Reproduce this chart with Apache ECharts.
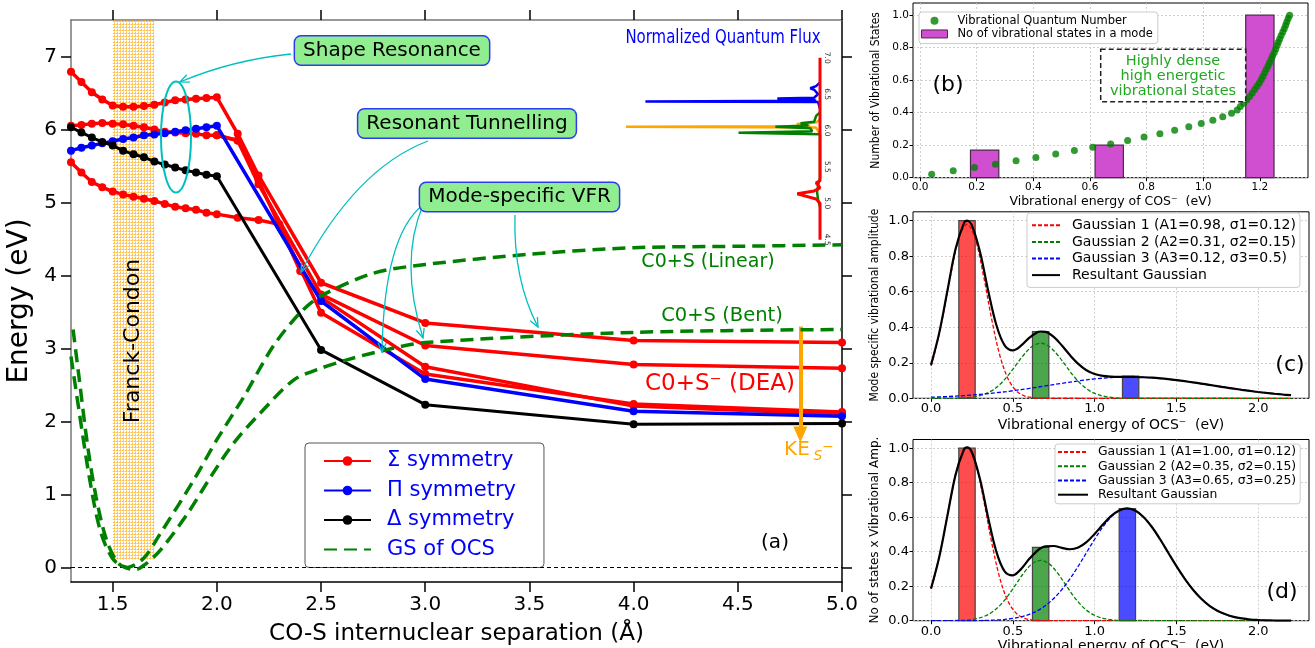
<!DOCTYPE html>
<html><head><meta charset="utf-8">
<script src="https://cdn.jsdelivr.net/npm/echarts@6/dist/echarts.min.js"></script>
<style>html,body{margin:0;padding:0;background:#fff}#c{width:1315px;height:648px}</style>
</head><body><div id="c"></div>
<script>
// ---------------- DATA ----------------
// Panel (a): potential energy curves
const mainTicksX = [1.5, 2.0, 2.5, 3.0, 3.5, 4.0, 4.5, 5.0];
const mainTicksY = [0, 1, 2, 3, 4, 5, 6, 7];
const sig1X = [1.30,1.35,1.40,1.45,1.50,1.55,1.60,1.65,1.70,1.75,1.80,1.85,1.90,1.95,2.00,2.10,2.20,2.50,3.00,4.00,5.00];
const sig1Y = [6.79,6.65,6.51,6.41,6.33,6.31,6.31,6.32,6.34,6.37,6.40,6.41,6.42,6.43,6.44,5.94,5.37,3.90,3.35,3.11,3.08];
const sig2X = [1.30,1.35,1.40,1.45,1.50,1.55,1.60,1.65,1.70,1.75,1.80,1.85,1.90,1.95,2.00,2.10,2.20,2.50,3.00,4.00,5.00];
const sig2Y = [6.05,6.06,6.08,6.09,6.08,6.07,6.05,6.03,6.00,5.97,5.96,5.95,5.94,5.92,5.92,5.85,5.25,3.74,3.04,2.78,2.73];
const sig3X = [1.30,1.35,1.40,1.45,1.50,1.55,1.60,1.65,1.70,1.75,1.80,1.85,1.90,1.95,2.00,2.10,2.20,2.30,2.50,3.00,4.00,5.00];
const sig3Y = [5.55,5.41,5.28,5.21,5.15,5.11,5.08,5.05,5.02,4.98,4.94,4.92,4.90,4.86,4.84,4.79,4.76,4.70,3.49,2.65,2.24,2.13];
const sig4X = [2.00,2.10,2.20,2.40,2.50,3.00,4.00,5.00];
const sig4Y = [5.92,5.85,5.30,4.06,3.70,2.75,2.21,2.10];
const piX = [1.30,1.35,1.40,1.45,1.50,1.55,1.60,1.65,1.70,1.75,1.80,1.85,1.90,1.95,2.00,2.50,3.00,4.00,5.00];
const piY = [5.71,5.75,5.78,5.81,5.84,5.87,5.89,5.92,5.93,5.95,5.97,5.99,6.01,6.03,6.05,3.65,2.58,2.14,2.07];
const deltaX = [1.30,1.35,1.40,1.45,1.50,1.55,1.60,1.65,1.70,1.75,1.80,1.85,1.90,1.95,2.00,2.50,3.00,4.00,5.00];
const deltaY = [6.03,5.96,5.89,5.83,5.78,5.71,5.66,5.62,5.56,5.52,5.48,5.44,5.41,5.38,5.36,2.98,2.23,1.96,1.97];
const gsLinX = [1.30,1.34,1.39,1.44,1.50,1.57,1.65,1.73,1.89,2.00,2.13,2.27,2.40,2.50,2.75,3.00,3.50,4.00,4.50,5.00];
const gsLinY = [2.89,2.12,1.20,0.51,0.12,0.00,0.13,0.47,1.20,1.75,2.34,3.03,3.49,3.72,4.03,4.15,4.29,4.38,4.40,4.42];
const gsBentX = [1.31,1.34,1.38,1.42,1.47,1.53,1.61,1.66,1.73,1.86,1.97,2.08,2.21,2.37,2.50,2.62,2.78,3.00,4.00,5.00];
const gsBentY = [3.26,2.57,1.66,0.97,0.38,0.05,-0.03,0.05,0.24,0.74,1.24,1.70,2.12,2.57,2.73,2.84,2.96,3.08,3.22,3.26];
const fcRange = [1.5, 1.7];
const keArrow = [4.8, 3.30, 1.82];
// Normalized quantum flux inset (energy, flux)
const fluxTicks = [4.5, 5.0, 5.5, 6.0, 6.5, 7.0];
const fluxBlueE = [6.30,6.39,6.40,6.41,6.43,6.44,6.45,6.50,6.56,6.58,6.61,6.66];
const fluxBlueF = [0,0.01,0.90,0.02,0.05,0.22,0.03,0.01,0.03,0.05,0.02,0];
const fluxOrangeE = [5.95,6.04,6.05,6.06,6.09,6.11,6.15];
const fluxOrangeF = [0,0.02,1.00,0.05,0.12,0.02,0];
const fluxGreenE = [4.95,5.05,5.15,5.25,5.35,5.95,5.97,5.99,6.03,6.05,6.07,6.10,6.12,6.20,6.25];
const fluxGreenF = [0,0.01,0.015,0.01,0,0,0.42,0.04,0.05,0.23,0.06,0.10,0.03,0.02,0];
const fluxRedE = [4.50,5.00,5.06,5.13,5.17,5.21,5.25,5.28,5.31,7.00];
const fluxRedF = [0,0,0.02,0.117,0.03,0,0.01,0.02,0,0];
// Panel (b)
const vibE = [0.041,0.117,0.192,0.266,0.339,0.409,0.479,0.545,0.610,0.673,0.733,0.791,0.847,0.899,0.949,0.993,1.034,1.069,1.100,1.120,1.131,1.143,1.154,1.164,1.173,1.182,1.190,1.198,1.205,1.211,1.217,1.223,1.229,1.234,1.240,1.245,1.251,1.256,1.261,1.265,1.270,1.275,1.281,1.286,1.291,1.295,1.300,1.305];
const vibN = [0.021,0.042,0.063,0.083,0.104,0.125,0.146,0.167,0.188,0.208,0.229,0.250,0.271,0.292,0.313,0.333,0.354,0.375,0.396,0.417,0.438,0.458,0.479,0.500,0.521,0.542,0.563,0.583,0.604,0.625,0.646,0.667,0.688,0.708,0.729,0.750,0.771,0.792,0.813,0.833,0.854,0.875,0.896,0.917,0.938,0.958,0.979,1.000];
const modeE = [0.228, 0.668, 1.200];
const modeCount = [0.17, 0.20, 1.00];
const bTicksX = [0, 0.2, 0.4, 0.6, 0.8, 1.0, 1.2];
const pTicksY = [0, 0.2, 0.4, 0.6, 0.8, 1.0];
const cdTicksX = [0, 0.5, 1.0, 1.5, 2.0];
// Panel (c)
const cBarE = [0.22, 0.67, 1.22];
const cBarA = [1.00, 0.375, 0.125];
const cG1X = [0,0.02,0.07,0.12,0.17,0.22,0.27,0.32,0.37,0.42,0.47,0.52,0.57,0.62,0.67,0.72,2.2];
const cG1Y = [0.182,0.244,0.449,0.693,0.899,0.980,0.899,0.693,0.449,0.244,0.112,0.043,0.0139,0.0038,0.0009,0.0002,0];
const cG2X = [0,0.17,0.22,0.27,0.32,0.37,0.42,0.47,0.52,0.57,0.62,0.67,0.72,0.77,0.82,0.87,0.92,0.97,1.02,1.07,1.12,1.17,2.2];
const cG2Y = [0,0.0012,0.0034,0.0089,0.0204,0.0419,0.0772,0.1274,0.188,0.248,0.293,0.310,0.293,0.248,0.188,0.1274,0.0772,0.0419,0.0204,0.0089,0.0034,0.0012,0];
const cG3X = [0,0.1,0.2,0.3,0.4,0.5,0.6,0.7,0.8,0.9,1.0,1.1,1.2,1.3,1.4,1.5,1.6,1.7,1.8,1.9,2.0,2.1,2.2];
const cG3Y = [0.0061,0.0098,0.0150,0.0221,0.0313,0.0426,0.0556,0.0699,0.0843,0.0978,0.1089,0.1166,0.1199,0.1185,0.1125,0.1026,0.0899,0.0757,0.0612,0.0476,0.0355,0.0255,0.0176];
const sumX = [0,0.05,0.1,0.15,0.2,0.22,0.25,0.3,0.35,0.4,0.45,0.5,0.55,0.6,0.65,0.67,0.7,0.75,0.8,0.85,0.9,0.95,1.0,1.05,1.1,1.15,1.2,1.25,1.3,1.35,1.4,1.45,1.5,1.55,1.6,1.65,1.7,1.75,1.8,1.85,1.9,1.95,2.0,2.05,2.1,2.15,2.2];
const cSumY = [0.188,0.367,0.604,0.840,0.983,1.000,0.974,0.822,0.603,0.411,0.298,0.270,0.296,0.340,0.372,0.376,0.374,0.346,0.297,0.242,0.194,0.158,0.137,0.126,0.122,0.121,0.121,0.120,0.1185,0.116,0.1125,0.108,0.1026,0.0965,0.0899,0.0829,0.0757,0.0684,0.0612,0.0543,0.0476,0.0413,0.0355,0.0303,0.0255,0.0213,0.0176];
// Panel (d)
const dBarE = [0.22, 0.67, 1.20];
const dBarA = [1.00, 0.425, 0.65];
const dG1Y = [0.186,0.249,0.458,0.707,0.917,1.000,0.917,0.707,0.458,0.249,0.114,0.044,0.0142,0.0039,0.0009,0.0002,0];
const dG2Y = [0,0.0014,0.0039,0.0100,0.0230,0.0473,0.0872,0.1439,0.2123,0.2804,0.3311,0.350,0.3311,0.2804,0.2123,0.1439,0.0872,0.0473,0.0230,0.0100,0.0039,0.0014,0];
const dG3X = [0,0.2,0.25,0.3,0.35,0.4,0.45,0.5,0.55,0.6,0.65,0.7,0.75,0.8,0.85,0.9,0.95,1.0,1.05,1.1,1.15,1.2,1.25,1.3,1.35,1.4,1.45,1.5,1.55,1.6,1.65,1.7,1.75,1.8,1.85,1.9,1.95,2.0,2.05,2.1,2.15,2.2];
const dG3Y = [0,0.0002,0.0005,0.0010,0.0020,0.0039,0.0072,0.0129,0.0221,0.0365,0.0578,0.088,0.129,0.181,0.244,0.316,0.394,0.472,0.543,0.600,0.637,0.650,0.637,0.600,0.543,0.472,0.394,0.316,0.244,0.181,0.129,0.088,0.0578,0.0365,0.0221,0.0129,0.0072,0.0039,0.0020,0.0010,0.0005,0.0002];
const dSumY = [0.186,0.367,0.607,0.845,0.989,1.004,0.976,0.818,0.594,0.398,0.286,0.263,0.299,0.357,0.406,0.420,0.431,0.433,0.422,0.414,0.424,0.455,0.503,0.557,0.606,0.639,0.651,0.637,0.600,0.543,0.472,0.394,0.316,0.244,0.181,0.129,0.088,0.058,0.037,0.022,0.013,0.007,0.004,0.002,0.001,0.0005,0.0002];

// ---------------- HELPERS ----------------
const zip = (a, b) => a.map((v, i) => [v, b[i]]);
const FONT = 'DejaVu Sans';
const NARROW = "'DejaVu Sans Condensed','Liberation Sans Narrow','DejaVu Sans'";
const RED = '#ff0000', BLUE = '#0000ff', GREEN = '#008000', CYAN = '#00bfbf';

const pc = document.createElement('canvas'); pc.width = 3; pc.height = 3;
const pg = pc.getContext('2d');
pg.fillStyle = 'rgba(255,165,0,0.7)';
pg.fillRect(0, 0, 1, 1); pg.fillRect(0, 2, 1, 1); pg.fillRect(2, 0, 1, 1);
pg.fillStyle = 'rgba(255,165,0,0.3)';
pg.fillRect(1, 0, 1, 1); pg.fillRect(0, 1, 1, 1);

function pec(name, xs, ys, color, lw, z) {
  return {type:'line', name, xAxisIndex:0, yAxisIndex:0, data:zip(xs, ys), symbol:'circle', symbolSize:8,
    showSymbol:true, lineStyle:{color, width:lw}, itemStyle:{color}, z, silent:true};
}
function gs(xs, ys) {
  return {type:'line', name:'GS of OCS', xAxisIndex:0, yAxisIndex:0, data:zip(xs, ys), smooth:0.3, symbol:'none',
    lineStyle:{color:GREEN, width:3.5, type:[13,7]}, itemStyle:{color:GREEN}, z:6};
}
function flux(es, fs, color, lw, z) {
  return {type:'line', xAxisIndex:2, yAxisIndex:2, data:zip(fs, es), symbol:'none',
    lineStyle:{color, width:lw}, itemStyle:{color}, z};
}
function gauss(name, xi, xs, ys, color, dashed, z) {
  return {type:'line', name, xAxisIndex:xi, yAxisIndex:xi, data:zip(xs, ys), smooth:0.35, symbol:'none',
    lineStyle:{color, width:dashed ? 1.3 : 2.2, type: dashed ? [4,2] : 'solid'}, itemStyle:{color}, z};
}
function bars(name, xi, xs, hs, width, fills, stroke, z) {
  return {type:'custom', name, xAxisIndex:xi, yAxisIndex:xi, data:zip(xs, hs), encode:{x:0, y:1}, z,
    renderItem: (params, api) => {
      const x = api.value(0), h = api.value(1);
      const p0 = api.coord([x - width/2, h]), p1 = api.coord([x + width/2, 0]);
      return {type:'rect', shape:{x:p0[0], y:p0[1], width:p1[0]-p0[0], height:p1[1]-p0[1]},
        style:{fill: fills[params.dataIndex % fills.length], stroke, lineWidth:1.2}};
    }};
}
function arrow(x0, y0, cx, cy, x1, y1) {
  const a = Math.atan2(y1 - cy, x1 - cx), L = 10, s = 0.42;
  return [
    {type:'bezierCurve', shape:{x1:x0, y1:y0, cpx1:cx, cpy1:cy, x2:x1, y2:y1}, style:{stroke:CYAN, lineWidth:1.3, fill:'none'}, z:50},
    {type:'polyline', shape:{points:[[x1 - L*Math.cos(a - s), y1 - L*Math.sin(a - s)], [x1, y1], [x1 - L*Math.cos(a + s), y1 - L*Math.sin(a + s)]]},
      style:{stroke:CYAN, lineWidth:1.3, fill:'none'}, z:50}
  ];
}
function txt(text, x, y, font, fill, extra, el) {
  return Object.assign({type:'text', x, y, z:60, style:Object.assign({text, font, fill, align:'center', verticalAlign:'middle'}, extra || {})}, el || {});
}
function boxText(text, x, y) {
  return {type:'text', x, y, z:60, style:{text, font:'20px ' + FONT, fill:'#000', align:'center', verticalAlign:'middle',
    backgroundColor:'#90ee90', borderColor:'#2b3cf0', borderWidth:1.5, borderRadius:6, padding:[4, 8, 4, 8]}};
}
const lineOnly = n => ({name:n, itemStyle:{opacity:0}});

const pTick = {show:true, length:3.5, lineStyle:{color:'#000', width:1}};
const pSplit = {show:true, lineStyle:{type:[2,2], color:'#c4c4c4', width:0.8}};
const pLab = (vals, size) => ({fontSize:size, fontFamily:FONT, color:'#000', margin:4, customValues:vals, formatter:v => v.toFixed(1)});
const noLine = {show:false, onZero:false};

const mainTick = {show:true, length:10, lineStyle:{color:'#000', width:1.5}};
const G = o => Object.assign({outerBoundsMode:'none', containLabel:false}, o);

const option = {
  animation:false,
  backgroundColor:'#fff',
  grid:[
    G({left:71, top:20, right:473, bottom:66}),
    G({left:626, top:57.7, right:495, bottom:408.3}),
    G({left:913, top:3, right:7, bottom:470.3, show:true, borderColor:'#000', borderWidth:1}),
    G({left:913, top:211.8, right:6, bottom:249.7, show:true, borderColor:'#000', borderWidth:1}),
    G({left:913, top:439.5, right:6, bottom:27.3, show:true, borderColor:'#000', borderWidth:1})
  ],
  xAxis:[
    {type:'value', gridIndex:0, min:1.3, max:5.0, position:'bottom',
     axisLine:{show:true, onZero:false, lineStyle:{color:'#000', width:1.5}}, axisTick:Object.assign({customValues:mainTicksX}, mainTick),
     axisLabel:{fontSize:20, fontFamily:FONT, color:'#000', margin:13, customValues:mainTicksX, formatter:v => v.toFixed(1)},
     splitLine:{show:false}, name:'CO-S internuclear separation (Å)', nameLocation:'middle', nameGap:41,
     nameTextStyle:{fontSize:23, fontFamily:FONT, color:'#000'}},
    {type:'value', gridIndex:0, min:1.3, max:5.0, position:'top',
     axisLine:{show:true, onZero:false, lineStyle:{color:'#777', width:1.5}}, axisTick:Object.assign({customValues:mainTicksX}, mainTick),
     axisLabel:{show:false}, splitLine:{show:false}},
    {type:'value', gridIndex:1, min:0, max:1, inverse:true, show:false},
    {type:'value', gridIndex:2, min:-0.025, max:1.37, splitNumber:7, axisLine:noLine, axisTick:Object.assign({customValues:bTicksX}, pTick),
     axisLabel:pLab(bTicksX, 10.5), splitLine:pSplit, name:'Vibrational energy of COS⁻  (eV)', nameLocation:'middle', nameGap:18,
     nameTextStyle:{fontSize:12.5, fontFamily:FONT, color:'#000'}},
    {type:'value', gridIndex:3, min:-0.11, max:2.31, splitNumber:5, axisLine:noLine, axisTick:Object.assign({customValues:cdTicksX}, pTick),
     axisLabel:pLab(cdTicksX, 13), splitLine:pSplit, name:'Vibrational energy of OCS⁻  (eV)', nameLocation:'middle', nameGap:20,
     nameTextStyle:{fontSize:14, fontFamily:FONT, color:'#000'}},
    {type:'value', gridIndex:4, min:-0.11, max:2.31, splitNumber:5, axisLine:noLine, axisTick:Object.assign({customValues:cdTicksX}, pTick),
     axisLabel:pLab(cdTicksX, 13), splitLine:pSplit, name:'Vibrational energy of OCS⁻  (eV)', nameLocation:'middle', nameGap:19,
     nameTextStyle:{fontSize:14, fontFamily:FONT, color:'#000'}}
  ],
  yAxis:[
    {type:'value', gridIndex:0, min:-0.2, max:7.5, position:'left',
     axisLine:{show:true, onZero:false, lineStyle:{color:'#777', width:1.5}}, axisTick:Object.assign({customValues:mainTicksY}, mainTick),
     axisLabel:{fontSize:20, fontFamily:FONT, color:'#000', margin:14, customValues:mainTicksY},
     splitLine:{show:false}, name:'Energy (eV)', nameLocation:'middle', nameGap:27,
     nameTextStyle:{fontSize:28, fontFamily:FONT, color:'#000'}},
    {type:'value', gridIndex:0, min:-0.2, max:7.5, position:'right',
     axisLine:{show:true, onZero:false, lineStyle:{color:'#000', width:1.5}}, axisTick:Object.assign({customValues:mainTicksY}, mainTick),
     axisLabel:{show:false}, splitLine:{show:false}},
    {type:'value', gridIndex:1, min:4.5, max:7.0, position:'right', axisLine:noLine, axisTick:{show:false},
     axisLabel:{fontSize:7.5, fontFamily:FONT, color:'#333', rotate:-90, margin:3, customValues:fluxTicks, formatter:v => v.toFixed(1)},
     splitLine:{show:false}},
    {type:'value', gridIndex:2, min:0, max:1.075, axisLine:noLine, axisTick:Object.assign({customValues:pTicksY}, pTick),
     axisLabel:pLab(pTicksY, 10.5), splitLine:pSplit, name:'Number of Vibrational States', nameLocation:'middle', nameGap:31,
     nameTextStyle:{fontSize:12, fontFamily:NARROW, color:'#000'}},
    {type:'value', gridIndex:3, min:0, max:1.05, axisLine:noLine, axisTick:Object.assign({customValues:pTicksY}, pTick),
     axisLabel:pLab(pTicksY, 13), splitLine:pSplit, name:'Mode specific vibrational amplitude', nameLocation:'middle', nameGap:32,
     nameTextStyle:{fontSize:12, fontFamily:NARROW, color:'#000'}},
    {type:'value', gridIndex:4, min:0, max:1.05, axisLine:noLine, axisTick:Object.assign({customValues:pTicksY}, pTick),
     axisLabel:pLab(pTicksY, 13), splitLine:pSplit, name:'No of states x Vibrational Amp.', nameLocation:'middle', nameGap:32,
     nameTextStyle:{fontSize:12, fontFamily:FONT, color:'#000'}}
  ],
  legend:[
    {left:305, top:443, orient:'vertical', data:['Σ symmetry','Π symmetry','Δ symmetry', lineOnly('GS of OCS')],
     itemWidth:47, itemHeight:12, itemGap:5.5, padding:[6,28,6,18], backgroundColor:'#fff', borderColor:'#555', borderWidth:1, borderRadius:4,
     textStyle:{color:BLUE, fontSize:21, fontFamily:FONT, lineHeight:24, padding:[0,0,0,11]}, selectedMode:false},
    {left:919, top:12, orient:'vertical',
     data:[{name:'Vibrational Quantum Number', icon:'circle'},
           {name:'No of vibrational states in a mode', icon:'rect', itemStyle:{color:'#d04ed0', borderColor:'#4a2a4a', borderWidth:1}}],
     itemWidth:26, itemHeight:8, itemGap:0, padding:[2,5,3,2], backgroundColor:'#fff', borderColor:'#ccc', borderWidth:1, borderRadius:3,
     textStyle:{color:'#000', fontSize:11.5, fontFamily:FONT, lineHeight:13.3, padding:[0,0,0,5]}, selectedMode:false},
    {left:1027, top:213, orient:'vertical',
     data:['Gaussian 1 (A1=0.98, σ1=0.12)','Gaussian 2 (A2=0.31, σ2=0.15)','Gaussian 3 (A3=0.12, σ3=0.5)','Resultant Gaussian'].map(lineOnly),
     itemWidth:28, itemHeight:10, itemGap:0, padding:[4,4,4,4], backgroundColor:'#fff', borderColor:'#ccc', borderWidth:1, borderRadius:3,
     textStyle:{color:'#000', fontSize:14, fontFamily:FONT, lineHeight:16.6, padding:[0,0,0,7]}, selectedMode:false},
    {left:1055, top:444, orient:'vertical',
     data:['Gaussian 1 (A1=1.00, σ1=0.12)','Gaussian 2 (A2=0.35, σ2=0.15)','Gaussian 3 (A3=0.65, σ3=0.25)','Resultant Gaussian'].map(lineOnly),
     itemWidth:30, itemHeight:10, itemGap:0, padding:[1,4,2,2], backgroundColor:'#fff', borderColor:'#ccc', borderWidth:1, borderRadius:3,
     textStyle:{color:'#000', fontSize:12.4, fontFamily:FONT, lineHeight:14.2, padding:[0,0,0,5]}, selectedMode:false}
  ],
  series:[
    {type:'line', xAxisIndex:0, yAxisIndex:0, data:[], z:1, silent:true,
     markLine:{silent:true, symbol:'none', label:{show:false}, lineStyle:{color:'#000', width:1, type:[4,3]}, data:[{yAxis:0}]}},
    pec('Σ symmetry', sig3X, sig3Y, RED, 3.5, 2),
    pec('Σ symmetry', sig4X, sig4Y, RED, 3.5, 2),
    pec('Σ symmetry', sig2X, sig2Y, RED, 3.5, 2),
    pec('Σ symmetry', sig1X, sig1Y, RED, 3.5, 2),
    pec('Π symmetry', piX, piY, BLUE, 3.5, 3),
    pec('Δ symmetry', deltaX, deltaY, '#000', 3, 4),
    gs(gsLinX, gsLinY),
    gs(gsBentX, gsBentY),
    {type:'line', xAxisIndex:0, yAxisIndex:0, data:[], z:8, silent:true,
     markArea:{silent:true, itemStyle:{color:{image:pc, repeat:'repeat'}},
       data:[[{xAxis:fcRange[0], yAxis:0.1}, {xAxis:fcRange[1], yAxis:7.5}]]}},
    {type:'line', xAxisIndex:0, yAxisIndex:0, data:[], z:9, silent:true,
     markLine:{silent:true, symbol:['none','triangle'], symbolSize:[14,16], label:{show:false},
       lineStyle:{color:'#ffa500', width:4, type:'solid'},
       data:[[{coord:[keArrow[0], keArrow[1]]}, {coord:[keArrow[0], keArrow[2]]}]]}},
    flux(fluxBlueE, fluxBlueF, BLUE, 2.5, 10),
    flux(fluxOrangeE, fluxOrangeF, '#ffa500', 2.5, 10),
    flux(fluxGreenE, fluxGreenF, GREEN, 2.5, 11),
    flux(fluxRedE, fluxRedF, RED, 3, 12),
    bars('No of vibrational states in a mode', 3, modeE, modeCount, 0.1, ['#d04ed0'], '#4a2a4a', 2),
    {type:'scatter', name:'Vibrational Quantum Number', xAxisIndex:3, yAxisIndex:3, data:zip(vibE, vibN),
     symbolSize:7, itemStyle:{color:GREEN}, z:3},
    bars('cbars', 4, cBarE, cBarA, 0.1, ['rgba(255,0,0,0.7)','rgba(0,128,0,0.7)','rgba(0,0,255,0.7)'], '#444', 2),
    gauss('Gaussian 1 (A1=0.98, σ1=0.12)', 4, cG1X, cG1Y, RED, true, 3),
    gauss('Gaussian 2 (A2=0.31, σ2=0.15)', 4, cG2X, cG2Y, GREEN, true, 3),
    gauss('Gaussian 3 (A3=0.12, σ3=0.5)', 4, cG3X, cG3Y, BLUE, true, 3),
    gauss('Resultant Gaussian', 4, sumX, cSumY, '#000', false, 4),
    bars('dbars', 5, dBarE, dBarA, 0.1, ['rgba(255,0,0,0.7)','rgba(0,128,0,0.7)','rgba(0,0,255,0.7)'], '#444', 2),
    gauss('Gaussian 1 (A1=1.00, σ1=0.12)', 5, cG1X, dG1Y, RED, true, 3),
    gauss('Gaussian 2 (A2=0.35, σ2=0.15)', 5, cG2X, dG2Y, GREEN, true, 3),
    gauss('Gaussian 3 (A3=0.65, σ3=0.25)', 5, dG3X, dG3Y, BLUE, true, 3),
    gauss('Resultant Gaussian', 5, sumX, dSumY, '#000', false, 4)
  ],
  graphic:[
    txt('Franck-Condon', 133, 341, '22px ' + FONT, '#000', {}, {rotation:Math.PI/2}),
    boxText('Shape Resonance', 392, 50.5),
    boxText('Resonant Tunnelling', 467, 123.5),
    boxText('Mode-specific VFR', 519.5, 197),
    {type:'ellipse', shape:{cx:176, cy:137, rx:15, ry:55.5}, style:{stroke:CYAN, lineWidth:2, fill:'none'}, z:50},
    ...arrow(291, 54, 232, 60, 180, 82),
    ...arrow(428, 141, 356, 168, 301, 272),
    ...arrow(423, 205, 384, 235, 382, 352),
    ...arrow(423, 205, 399, 262, 423, 338),
    ...arrow(515, 215, 513, 279, 538, 327),
    txt('Normalized Quantum Flux', 723, 38, "19px " + NARROW, BLUE, {}, {scaleX:0.875}),
    txt('C0+S (Linear)', 708, 262, '19px ' + FONT, GREEN),
    txt('C0+S (Bent)', 722, 316, '19.5px ' + FONT, GREEN),
    txt('C0+S⁻ (DEA)', 720, 384, '23px ' + FONT, RED),
    txt('KE', 797, 450, '20px ' + FONT, '#ffa500'),
    txt('S', 818, 456, 'italic 14px ' + FONT, '#ffa500'),
    txt('−', 828, 447, '14px ' + FONT, '#ffa500'),
    txt('(a)', 775, 543, '20px ' + FONT, '#000'),
    {type:'rect', shape:{x:1100.7, y:49.3, width:145, height:52.4}, style:{stroke:'#222', lineWidth:1.5, lineDash:[5,3], fill:'#fff'}, z:40},
    txt('Highly dense\nhigh energetic\nvibrational states', 1173, 76.5, '14.5px ' + FONT, '#22a822', {lineHeight:15}),
    txt('(b)', 948, 85, '22px ' + FONT, '#000'),
    txt('(c)', 1290, 365, '22px ' + FONT, '#000'),
    txt('(d)', 1282, 592, '22px ' + FONT, '#000')
  ]
};
const chart = echarts.init(document.getElementById('c'), null, {renderer:'canvas', width:1315, height:648});
chart.setOption(option);
</script></body></html>
